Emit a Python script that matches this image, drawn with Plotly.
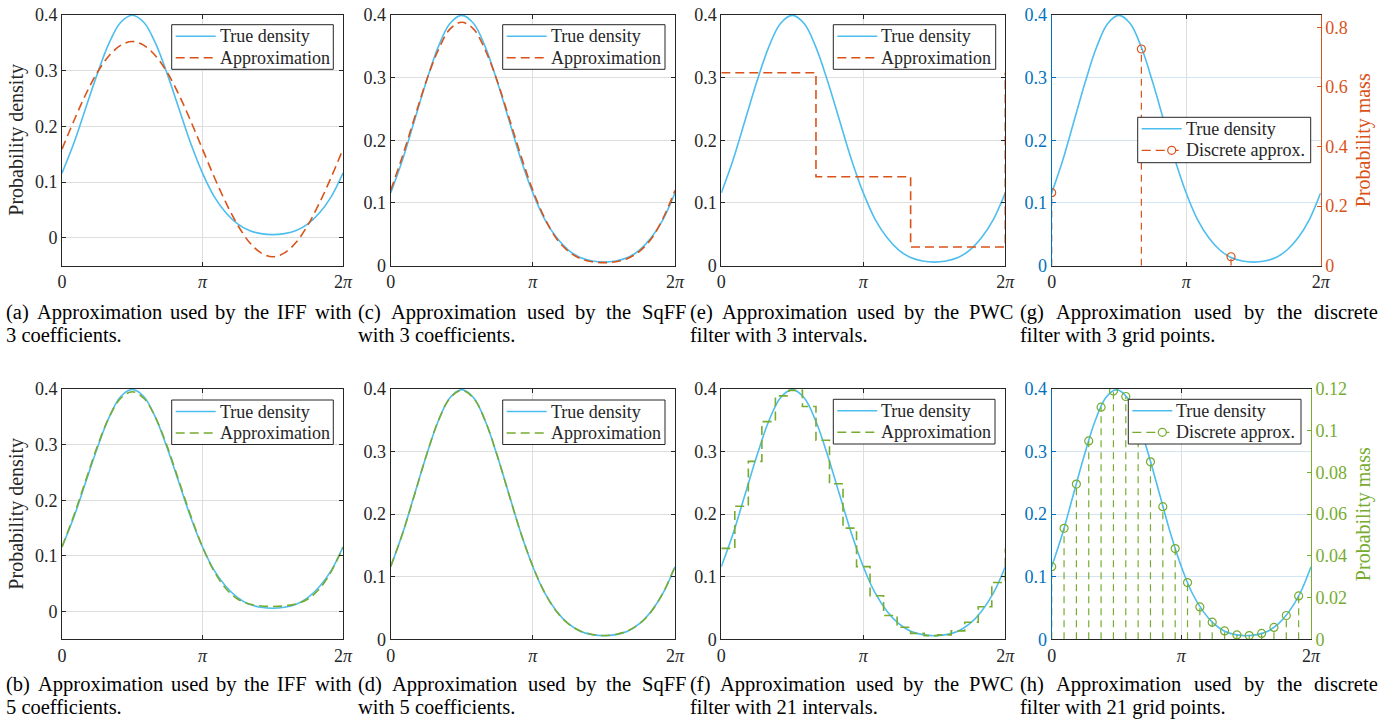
import numpy as np
import plotly.graph_objects as go

W, H = 1391, 719
TWO_PI = 2 * np.pi

# ---------------- data ----------------
theta = np.linspace(0, TWO_PI, 25)  # sampling positions (step pi/12)
true_density = [0.116, 0.169, 0.231, 0.293, 0.348, 0.386, 0.399, 0.386, 0.348, 0.293, 0.231, 0.169,
                0.116, 0.074, 0.045, 0.025, 0.013, 0.0075, 0.0057, 0.0075, 0.013, 0.025, 0.045, 0.074, 0.116]
iff3 = [0.159, 0.209, 0.256, 0.296, 0.326, 0.345, 0.352, 0.345, 0.326, 0.296, 0.256, 0.209,
        0.159, 0.109, 0.063, 0.023, -0.008, -0.027, -0.034, -0.027, -0.008, 0.023, 0.063, 0.109, 0.159]
iff5 = [0.116, 0.172, 0.234, 0.296, 0.348, 0.383, 0.395, 0.383, 0.348, 0.296, 0.234, 0.172,
        0.116, 0.072, 0.041, 0.0225, 0.0135, 0.010, 0.009, 0.010, 0.0135, 0.0225, 0.041, 0.072, 0.116]
sqff3 = [0.120, 0.175, 0.235, 0.294, 0.343, 0.377, 0.388, 0.377, 0.343, 0.294, 0.235, 0.175,
         0.120, 0.076, 0.043, 0.023, 0.0115, 0.0063, 0.0049, 0.0063, 0.0115, 0.023, 0.043, 0.076, 0.120]
sqff5 = [0.1165, 0.169, 0.2302, 0.2932, 0.3482, 0.3853, 0.3978, 0.3853, 0.3482, 0.2932, 0.2302, 0.169,
         0.1165, 0.0746, 0.0444, 0.0247, 0.0134, 0.0078, 0.0061, 0.0078, 0.0134, 0.0247, 0.0444, 0.0746, 0.1165]
pwc3_levels = [0.3076, 0.1418, 0.0298]
pwc21_levels = [0.1453, 0.2126, 0.2844, 0.3478, 0.3890, 0.3978, 0.3720, 0.3180, 0.2486, 0.1777, 0.1162,
                0.0695, 0.0380, 0.0192, 0.0095, 0.0059, 0.0070, 0.0134, 0.0273, 0.0519, 0.0908]
disc3_mass = [0.245, 0.727, 0.030]
disc21_mass = [0.0348, 0.0532, 0.0744, 0.0951, 0.1113, 0.1190, 0.1164, 0.1041, 0.0851, 0.0636, 0.0435,
               0.0272, 0.0155, 0.0082, 0.0040, 0.0021, 0.0018, 0.0028, 0.0057, 0.0114, 0.0208]

x_tickvals = [0, np.pi, TWO_PI]
x_ticktext = ["0", "<i>π</i>", "2<i>π</i>"]

captions = {
    "a": ["(a) Approximation used by the IFF with", "3 coefficients."],
    "c": ["(c) Approximation used by the SqFF", "with 3 coefficients."],
    "e": ["(e) Approximation used by the PWC", "filter with 3 intervals."],
    "g": ["(g) Approximation used by the discrete", "filter with 3 grid points."],
    "b": ["(b) Approximation used by the IFF with", "5 coefficients."],
    "d": ["(d) Approximation used by the SqFF", "with 5 coefficients."],
    "f": ["(f) Approximation used by the PWC", "filter with 21 intervals."],
    "h": ["(h) Approximation used by the discrete", "filter with 21 grid points."],
}
legend_labels = {
    "a": ["True density", "Approximation"], "c": ["True density", "Approximation"],
    "e": ["True density", "Approximation"], "g": ["True density", "Discrete approx."],
    "b": ["True density", "Approximation"], "d": ["True density", "Approximation"],
    "f": ["True density", "Approximation"], "h": ["True density", "Discrete approx."],
}

# ---------------- styling ----------------
C_TRUE = "#4DBEEE"
C_ORANGE = "#D95319"
C_GREEN = "#77AC30"
C_BLUE = "#0072BD"
C_AX = "#262626"
C_GRID = "#dedede"
C_GRID_BLUE = "#d3e5f3"
FONT = "Liberation Serif, Times New Roman, Times, serif"
TICK_SIZE = 18
TICKFONT = dict(family=FONT, size=TICK_SIZE, color=C_AX)
DASH = "9px,5px"
STEM_DASH = "7px,5px"
CAP_SIZE = 20.5

# Times glyph advance widths (per 1000 em) used to justify caption first lines
TW = {" ": 250, "(": 333, ")": 333, ".": 250, "a": 444, "b": 500, "c": 444, "d": 500, "e": 444, "f": 333,
      "g": 500, "h": 500, "i": 278, "l": 278, "m": 778, "n": 500, "o": 500, "p": 500, "q": 500, "r": 333,
      "s": 389, "t": 278, "u": 500, "v": 500, "w": 722, "x": 500, "y": 500, "A": 722, "C": 667, "F": 556,
      "I": 333, "P": 556, "S": 556, "W": 944}

def text_w(s, size):
    return sum(TW.get(ch, 500) for ch in s) * size / 1000.0

# panel boxes in pixels: (left, right, top, bottom)
panels = {
    "a": (62, 343, 14.7, 265.7),
    "c": (390.7, 675, 14.7, 265.7),
    "e": (721.3, 1005.3, 14.7, 265.7),
    "g": (1051.7, 1320.7, 14.7, 265.7),
    "b": (62, 343, 389, 639.3),
    "d": (390.7, 675, 389, 639.3),
    "f": (721.3, 1005.3, 389, 639.3),
    "h": (1051.7, 1311, 389, 639.3),
}
order = ["a", "c", "e", "g", "b", "d", "f", "h"]
legend_boxes = {  # left, right, top, bottom
    "a": (171.7, 333.3, 24.7, 69.3), "c": (502.7, 665, 24.7, 69.3),
    "e": (833.3, 995.7, 24.7, 69.3), "g": (1137.7, 1310.7, 117.3, 162.7),
    "b": (171.7, 333.3, 400, 444.5), "d": (502.7, 665, 400, 444.5),
    "f": (833.3, 995, 399.3, 444), "h": (1128.3, 1301, 399.3, 444),
}
caption_pos = {  # x start, x end of justified line, y line1, y line2
    "a": (5, 350, 312, 335), "c": (357, 685, 312, 335), "e": (689, 1012, 312, 335),
    "g": (1019, 1377, 312, 335),
    "b": (5, 350, 684, 707), "d": (357, 685, 684, 707), "f": (689, 1012, 684, 707),
    "h": (1019, 1377, 684, 707),
}

fig = go.Figure()
layout = dict(width=W, height=H, autosize=False, margin=dict(l=0, r=0, t=0, b=0, autoexpand=False),
              paper_bgcolor="white", plot_bgcolor="white", showlegend=False,
              font=dict(family=FONT, color=C_AX))
annotations = []
shapes = []

def fx(px):
    return px / W

def fy(py):
    return 1 - py / H

for i, key in enumerate(order, start=1):
    l, r, t, b = panels[key]
    sfx = "" if i == 1 else str(i)
    yr = [-0.05, 0.4] if key in ("a", "b") else [0, 0.4]
    dual = key in ("g", "h")
    layout["xaxis" + sfx] = dict(
        domain=[fx(l), fx(r)], range=[0, TWO_PI], tickvals=x_tickvals, ticktext=x_ticktext,
        showgrid=True, gridcolor=C_GRID, gridwidth=1, zeroline=False, automargin=False,
        showline=True, linecolor=C_AX, linewidth=1, mirror="ticks", ticks="inside", ticklen=4,
        tickcolor=C_AX, tickfont=TICKFONT, anchor="y" + sfx, fixedrange=True)
    ycol = C_BLUE if dual else C_AX
    layout["yaxis" + sfx] = dict(
        domain=[fy(b), fy(t)], range=yr, tick0=0, dtick=0.1, automargin=False,
        showgrid=True, gridcolor=C_GRID_BLUE if dual else C_GRID, gridwidth=1, zeroline=False,
        showline=True, linecolor=ycol, linewidth=1, mirror=False if dual else "ticks",
        ticks="inside", ticklen=4, tickcolor=ycol,
        tickfont=dict(family=FONT, size=TICK_SIZE, color=ycol), anchor="x" + sfx, fixedrange=True)

    xa, ya = "x" + sfx, "y" + sfx
    fig.add_trace(go.Scatter(x=theta, y=true_density, mode="lines",
                             line=dict(color=C_TRUE, width=1.6, shape="spline"),
                             name="True density", xaxis=xa, yaxis=ya))
    col = C_ORANGE if i <= 4 else C_GREEN
    dash_line = dict(color=col, width=1.6, dash=DASH)
    if key in ("a", "b", "c", "d"):
        vals = {"a": iff3, "b": iff5, "c": sqff3, "d": sqff5}[key]
        fig.add_trace(go.Scatter(x=theta, y=vals, mode="lines", line=dict(dash_line, shape="spline"),
                                 name="Approximation", xaxis=xa, yaxis=ya))
    elif key in ("e", "f"):
        lv = pwc3_levels if key == "e" else pwc21_levels
        edges = np.linspace(0, TWO_PI, len(lv) + 1)
        xs = list(edges[:-1]) + [TWO_PI, TWO_PI]
        ys = list(lv) + [lv[-1], lv[0]]
        fig.add_trace(go.Scatter(x=xs, y=ys, mode="lines", line=dict(dash_line, shape="hv"),
                                 name="Approximation", xaxis=xa, yaxis=ya))
    else:
        y2 = "y9" if key == "g" else "y10"
        y2key = "yaxis9" if key == "g" else "yaxis10"
        mass = disc3_mass if key == "g" else disc21_mass
        rng = [0, 0.842] if key == "g" else [0, 0.12]
        dt = 0.2 if key == "g" else 0.02
        layout[y2key] = dict(
            domain=[fy(b), fy(t)], range=rng, tick0=0, dtick=dt, overlaying=ya, side="right", anchor=xa,
            showgrid=False, zeroline=False, showline=True, linecolor=col, linewidth=1, automargin=False,
            ticks="inside", ticklen=4, tickcolor=col, tickfont=dict(family=FONT, size=TICK_SIZE, color=col),
            fixedrange=True)
        gx = np.linspace(0, TWO_PI, len(mass) + 1)[:-1]
        sx, sy = [], []
        for xv, mv in zip(gx, mass):
            sx += [xv, xv, None]
            sy += [0, mv, None]
        fig.add_trace(go.Scatter(x=sx, y=sy, mode="lines", line=dict(color=col, width=1.2, dash=STEM_DASH),
                                 xaxis=xa, yaxis=y2, hoverinfo="skip"))
        fig.add_trace(go.Scatter(x=gx, y=mass, mode="markers",
                                 marker=dict(symbol="circle-open", size=8, color=col, line=dict(width=1.2)),
                                 name="Discrete approx.", xaxis=xa, yaxis=y2))
        annotations.append(dict(text="Probability mass", x=fx(1363), y=fy((t + b) / 2), xref="paper", yref="paper",
                                xanchor="center", yanchor="middle",
                                showarrow=False, textangle=-90, font=dict(family=FONT, size=20, color=col)))

    # ---- legend box (drawn in paper coordinates) ----
    L, R, T, B = legend_boxes[key]
    shapes.append(dict(type="rect", xref="paper", yref="paper", x0=fx(L), x1=fx(R), y0=fy(B), y1=fy(T),
                       fillcolor="white", line=dict(color=C_AX, width=1), layer="above"))
    rows = [T + 11.5, T + 33]
    shapes.append(dict(type="line", xref="paper", yref="paper", x0=fx(L + 4), x1=fx(L + 44),
                       y0=fy(rows[0]), y1=fy(rows[0]), line=dict(color=C_TRUE, width=1.6), layer="above"))
    shapes.append(dict(type="line", xref="paper", yref="paper", x0=fx(L + 4), x1=fx(L + 44),
                       y0=fy(rows[1]), y1=fy(rows[1]), line=dict(color=col, width=1.6 if not dual else 1.2, dash=DASH),
                       layer="above"))
    if dual:
        mx = L + 34
        shapes.append(dict(type="circle", xref="paper", yref="paper", x0=fx(mx - 4), x1=fx(mx + 4),
                           y0=fy(rows[1] + 4), y1=fy(rows[1] - 4), fillcolor="white",
                           line=dict(color=col, width=1.2), layer="above"))
    for lab, ry in zip(legend_labels[key], rows):
        annotations.append(dict(text=lab, x=fx(L + 47), y=fy(ry), xref="paper", yref="paper", xanchor="left",
                                yanchor="middle", showarrow=False, borderpad=0,
                                font=dict(family=FONT, size=18, color=C_AX)))

    # ---- caption: first line justified, second line left aligned ----
    cx0, cx1, cy1, cy2 = caption_pos[key]
    words = captions[key][0].split(" ")
    widths = [text_w(w_, CAP_SIZE) for w_ in words]
    gap = (cx1 - cx0 - sum(widths)) / (len(words) - 1)
    pos = cx0
    for w_, ww in zip(words, widths):
        annotations.append(dict(text=w_, x=fx(pos), y=fy(cy1), xref="paper", yref="paper", xanchor="left",
                                yanchor="middle", showarrow=False, borderpad=0,
                                font=dict(family=FONT, size=CAP_SIZE, color="black")))
        pos += ww + gap
    annotations.append(dict(text=captions[key][1], x=fx(cx0), y=fy(cy2), xref="paper", yref="paper", xanchor="left",
                            yanchor="middle", showarrow=False, borderpad=0,
                            font=dict(family=FONT, size=CAP_SIZE, color="black")))

for key in ("a", "b"):
    l, r, t, b = panels[key]
    annotations.append(dict(text="Probability density", x=fx(16.5), y=fy((t + b) / 2), xref="paper", yref="paper",
                            xanchor="center", yanchor="middle",
                            showarrow=False, textangle=-90, font=dict(family=FONT, size=20, color=C_AX)))

layout["annotations"] = annotations
layout["shapes"] = shapes
fig.update_layout(**layout)
fig.write_html("out.html", config={"displayModeBar": False},
               post_script="document.body.style.margin='0px';document.body.style.overflow='hidden';")
